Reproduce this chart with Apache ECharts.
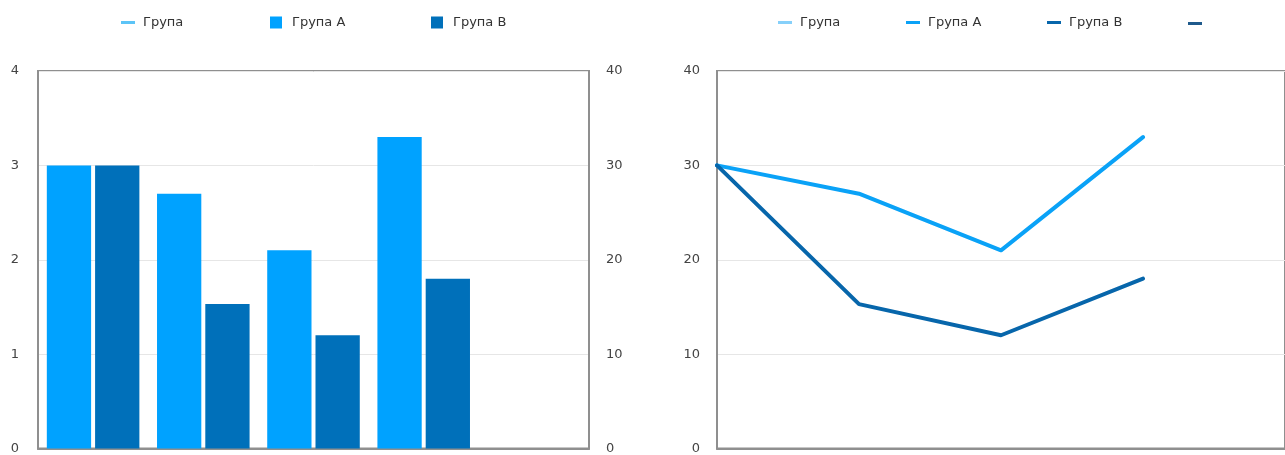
<!DOCTYPE html>
<html>
<head>
<meta charset="utf-8">
<script src="https://cdn.jsdelivr.net/npm/echarts@6/dist/echarts.min.js"></script>
<style>
html,body{margin:0;padding:0;background:#fff;}
#c{width:1285px;height:455px;}
</style>
</head>
<body>
<div id="c"></div>
<script>
// ---- data ----
const categories = ['1', '2', '3', '4', '5'];
const barGroupA = [3, 2.7, 2.1, 3.3];
const barGroupB = [3, 1.53, 1.2, 1.8];
const lineGroupA = [30, 27, 21, 33];
const lineGroupB = [30, 15.3, 12, 18];
const leftTicks = [0, 1, 2, 3, 4];
const rightTicks = [0, 10, 20, 30, 40];
const legendNames = ['Група', 'Група A', 'Група B', ''];

// ---- layout / style ----
const FONT = 'DejaVu Sans';
const axisGrey = '#8f8f8f';
const textGrey = '#444';
const colors = {
  g0L: '#5cc4f7', a: '#00a2ff', b: '#0070ba',
  g0R: '#86d0fa', la: '#0aa2f7', lb: '#0766ab', extra: '#1f5a8c'
};

const chart = echarts.init(document.getElementById('c'), null, {renderer: 'canvas'});

function yAxis(grid, pos, ticks, showSplit, margin) {
  return {
    type: 'value', gridIndex: grid, position: pos,
    min: ticks[0], max: ticks[ticks.length - 1], interval: ticks[1] - ticks[0],
    axisLine: {show: true, lineStyle: {color: axisGrey, width: 2}},
    axisTick: {show: false},
    axisLabel: {color: textGrey, fontFamily: FONT, fontSize: 13, margin: margin},
    splitLine: {show: showSplit, lineStyle: {color: '#e6e6e6', width: 1}}
  };
}
function xAxis(grid, boundaryGap) {
  return {
    type: 'category', gridIndex: grid, data: categories, boundaryGap: boundaryGap,
    axisLine: {show: true, lineStyle: {color: axisGrey, width: 2}},
    axisTick: {show: false}, axisLabel: {show: false}, splitLine: {show: false}
  };
}

// legend item placements: [seriesName, left, top, isSquare]
const legendItems = [
  [legendNames[0], 121, 16, false],
  [legendNames[1], 270, 16, true],
  [legendNames[2], 431, 16, true],
  [legendNames[0] + ' ', 778, 16, false],
  [legendNames[1] + ' ', 906, 16, false],
  [legendNames[2] + ' ', 1047, 16, false],
  [legendNames[3] + '  ', 1188, 22, false]
];
const legends = legendItems.map(function (it) {
  return {
    data: [it[0]], left: it[1], top: it[2],
    icon: 'rect',
    itemWidth: it[3] ? 12 : 14, itemHeight: it[3] ? 12 : 3,
    padding: 0, selectedMode: false,
    formatter: function (n) { return n.trim(); },
    textStyle: {color: '#333', fontFamily: FONT, fontSize: 13, padding: [0, 0, 0, it[3] ? 5 : 3]}
  };
});

function lineSeries(name, data, color, xi, yi) {
  return {
    type: 'line', name: name, data: data, xAxisIndex: xi, yAxisIndex: yi,
    symbol: 'none', showSymbol: false, color: color,
    itemStyle: {color: color},
    lineStyle: {color: color, width: 4, join: 'round', cap: 'round'},
    animation: false
  };
}

chart.setOption({
  animation: false,
  backgroundColor: '#fff',
  legend: legends,
  grid: [
    {left: 38, top: 71, width: 551, bottom: 3, show: true, borderColor: axisGrey, borderWidth: 2, containLabel: false},
    {left: 717, top: 71, width: 575, bottom: 3, show: true, borderColor: axisGrey, borderWidth: 2, containLabel: false}
  ],
  xAxis: [xAxis(0, true), xAxis(1, false)],
  yAxis: [
    yAxis(0, 'left', leftTicks, true, 19),
    yAxis(0, 'right', rightTicks, false, 17),
    yAxis(1, 'left', rightTicks, true, 17)
  ],
  series: [
    lineSeries(legendNames[0], [], colors.g0L, 0, 0),
    {type: 'bar', name: legendNames[1], data: barGroupA, xAxisIndex: 0, yAxisIndex: 0,
     color: colors.a, barGap: '9%', barCategoryGap: '16%'},
    {type: 'bar', name: legendNames[2], data: barGroupB, xAxisIndex: 0, yAxisIndex: 0,
     color: colors.b, barGap: '9%', barCategoryGap: '16%'},
    lineSeries(legendNames[0] + ' ', [], colors.g0R, 1, 2),
    lineSeries(legendNames[1] + ' ', lineGroupA, colors.la, 1, 2),
    lineSeries(legendNames[2] + ' ', lineGroupB, colors.lb, 1, 2),
    lineSeries(legendNames[3] + '  ', [], colors.extra, 1, 2)
  ]
});
</script>
</body>
</html>
